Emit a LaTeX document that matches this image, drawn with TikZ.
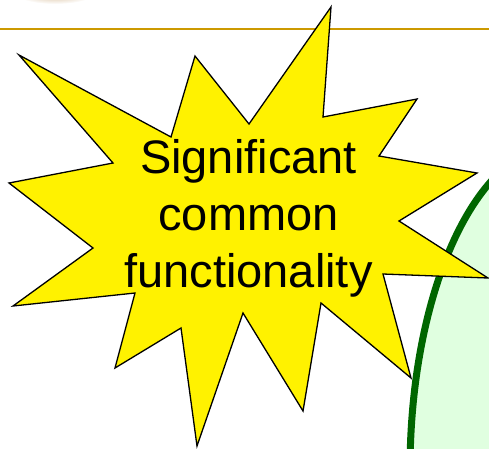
\documentclass[tikz,border=0pt]{standalone}
\usepackage{fontspec}
\setmainfont{Liberation Sans}
\definecolor{goldrule}{HTML}{CC9900}
\definecolor{tanshade}{HTML}{D2B48C}
\definecolor{ovalgreen}{HTML}{006600}
\definecolor{ovalfill}{HTML}{E0FFE0}
\begin{document}
\begin{tikzpicture}[x=1pt,y=-1pt,
  starshape/.style={draw=black,line width=1.3pt,fill=yellow,line join=miter},
  bigoval/.style={draw=ovalgreen,line width=7pt,fill=ovalfill},
  rule/.style={draw=goldrule,line width=2pt},
  bursttext/.style={font=\fontsize{47}{57}\selectfont,align=center,text=black}]
\useasboundingbox (0,0) rectangle (489,448);
\begin{scope}
\clip (0,0) rectangle (489,448);
\shade[inner color=tanshade,outer color=white] (55,-7) ellipse [x radius=40, y radius=11];
\draw[rule] (0,28.7) -- (489,28.7);
\path[bigoval] (560,470) ellipse [x radius=150, y radius=325];
\path[starshape] (331,7) -- (323,117) -- (417,99) -- (379,156) -- (477,173)
  -- (399,221) -- (488,278) -- (383,274) -- (411,378) -- (321,303)
  -- (303,411) -- (243,313) -- (197,446) -- (181,328) -- (115,368)
  -- (135,293) -- (13,306) -- (93,248) -- (9,183) -- (113,163)
  -- (19,55) -- (171,137) -- (195,56) -- (249,124) -- cycle;
\end{scope}
\node[bursttext,anchor=base] (burst) at (248.5,287) {Significant\\common\\functionality};
\end{tikzpicture}
\end{document}
